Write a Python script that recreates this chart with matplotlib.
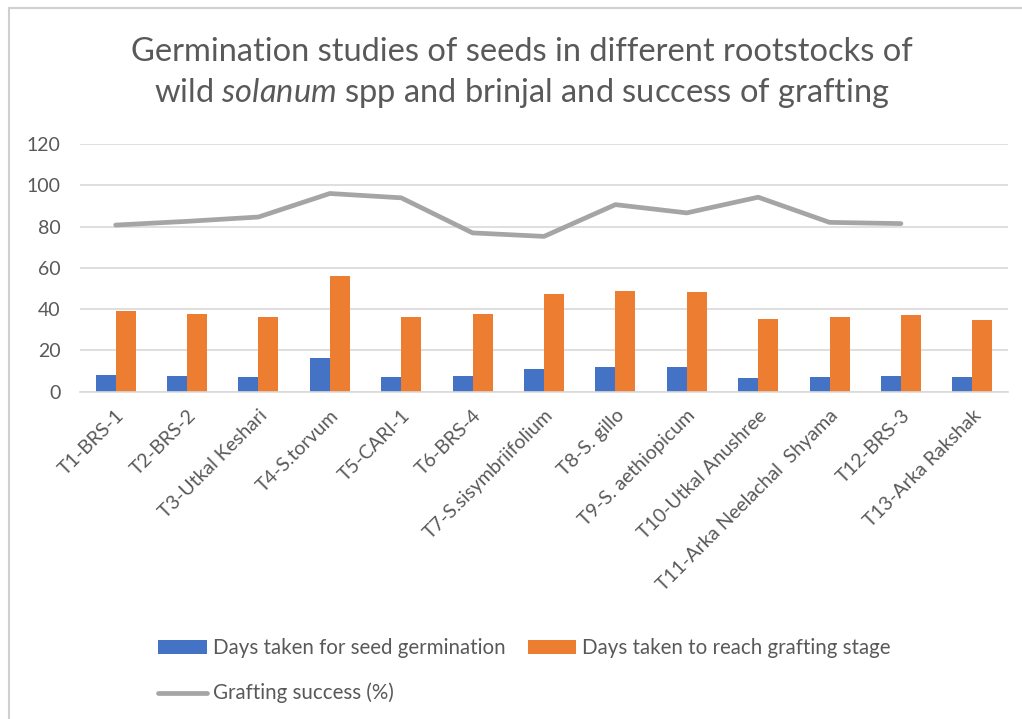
import matplotlib
matplotlib.use('Agg')
import matplotlib.pyplot as plt
from matplotlib.patches import Rectangle
import numpy as np

plt.rcParams['font.family'] = ['Lato', 'DejaVu Sans']
plt.rcParams['mathtext.fontset'] = 'custom'
plt.rcParams['mathtext.rm'] = 'Lato'
plt.rcParams['mathtext.it'] = 'Lato:italic'

categorias = ['T1-BRS-1', 'T2-BRS-2', 'T3-Utkal Keshari', 'T4-S.torvum', 'T5-CARI-1',
              'T6-BRS-4', 'T7-S.sisymbriifolium', 'T8-S. gillo', 'T9-S. aethiopicum',
              'T10-Utkal Anushree', 'T11-Arka Neelachal  Shyama', 'T12-BRS-3',
              'T13-Arka Rakshak']
dias_germinacao = [8.1, 7.6, 7.0, 16.3, 7.0, 7.6, 11.0, 12.1, 12.1, 6.5, 7.0, 7.6, 7.0]
dias_enxertia = [39.1, 37.5, 36.2, 56.1, 36.2, 37.5, 47.1, 48.9, 48.2, 35.0, 36.1, 36.9, 34.5]
sucesso_enxertia = [80.7, 82.5, 84.6, 96.0, 93.9, 76.9, 75.2, 90.6, 86.6, 94.2, 82.0, 81.4, np.nan]

cinza_texto = '#595959'

fig = plt.figure(figsize=(10.22, 7.19), dpi=100)
fig.patches.append(Rectangle((9 / 1022, -0.1), 1.2, 1.1 - 8 / 719, transform=fig.transFigure,
                             facecolor='white', edgecolor='#d0d0d0', linewidth=1.5, zorder=-1))

ax = fig.add_axes([80 / 1022, 1 - 391.5 / 719, 928 / 1022, 247.5 / 719])
x = np.arange(len(categorias))
largura = 0.28
b1 = ax.bar(x - largura / 2, dias_germinacao, largura, color='#4472C4',
            label='Days taken for seed germination', zorder=2)
b2 = ax.bar(x + largura / 2, dias_enxertia, largura, color='#ED7D31',
            label='Days taken to reach grafting stage', zorder=2)
l1, = ax.plot(x, sucesso_enxertia, color='#A5A5A5', linewidth=3.4,
              label='Grafting success (%)', zorder=3, solid_capstyle='round')

ax.set_xlim(-0.5, len(categorias) - 0.5)
ax.set_ylim(0, 120)
ax.set_yticks(range(0, 121, 20))
ax.grid(axis='y', color='#d9d9d9', linewidth=1.2, zorder=0)
for s in ['top', 'right', 'left']:
    ax.spines[s].set_visible(False)
ax.spines['bottom'].set_color('#d9d9d9')
ax.spines['bottom'].set_linewidth(1.2)
ax.tick_params(axis='both', length=0, labelsize=14, colors=cinza_texto)
ax.tick_params(axis='y', pad=14)
ax.tick_params(axis='x', pad=11)
ax.set_xticks(x)
ax.set_xticklabels(categorias, rotation=45, ha='right', rotation_mode='anchor')

fig.text(522 / 1022, 1 - 61 / 719, 'Germination studies of seeds in different rootstocks of',
         ha='center', va='baseline', fontsize=23.5, color=cinza_texto)
fig.text(522 / 1022, 1 - 102 / 719, r'wild $solanum$ spp and brinjal and success of grafting',
         ha='center', va='baseline', fontsize=23.5, color=cinza_texto)

fig.legend([b1, l1, b2], [b1.get_label(), l1.get_label(), b2.get_label()],
           ncol=2, loc='upper left', bbox_to_anchor=(150 / 1022, 1 - 630 / 719),
           borderaxespad=0, frameon=False, fontsize=14.8, labelcolor=cinza_texto,
           handlelength=2.35, handleheight=0.6, handletextpad=0.3, columnspacing=1.1,
           labelspacing=1.2)

plt.savefig('out.png', dpi=100)
